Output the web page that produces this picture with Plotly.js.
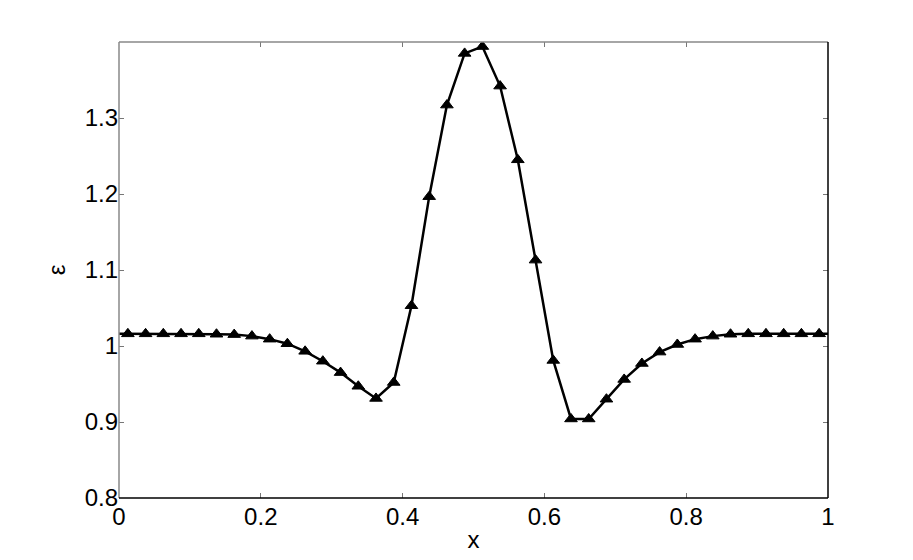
<!DOCTYPE html>
<html>
<head>
<meta charset="utf-8">
<script src="https://cdn.plot.ly/plotly-3.0.1.min.js"></script>
<style>html,body{margin:0;padding:0;background:#fff;}#chart{width:913px;height:560px;}</style>
</head>
<body>
<div id="chart"></div>
<script>
// Marker positions (cell centres) and values
var xMarkers = [0.0125,0.0375,0.0625,0.0875,0.1125,0.1375,0.1625,0.1875,0.2125,0.2375,
                0.2625,0.2875,0.3125,0.3375,0.3625,0.3875,0.4125,0.4375,0.4625,0.4875,
                0.5125,0.5375,0.5625,0.5875,0.6125,0.6375,0.6625,0.6875,0.7125,0.7375,
                0.7625,0.7875,0.8125,0.8375,0.8625,0.8875,0.9125,0.9375,0.9625,0.9875];
var epsValues = [1.016,1.016,1.016,1.016,1.016,1.0155,1.015,1.013,1.009,1.003,
                 0.993,0.980,0.965,0.947,0.931,0.952,1.053,1.1965,1.317,1.385,
                 1.394,1.342,1.245,1.113,0.981,0.904,0.904,0.930,0.956,0.977,
                 0.992,1.002,1.009,1.013,1.0155,1.016,1.016,1.016,1.016,1.016];
// Line also reaches the domain boundaries
var xBoundary = [0, 1];
var epsBoundary = [1.016, 1.016];

var xTickVals = [0, 0.2, 0.4, 0.6, 0.8, 1];
var xTickText = ["0", "0.2", "0.4", "0.6", "0.8", "1"];
var yTickVals = [0.8, 0.9, 1.0, 1.1, 1.2, 1.3];
var yTickText = ["0.8", "0.9", "1", "1.1", "1.2", "1.3"];

var xLine = [xBoundary[0]].concat(xMarkers, [xBoundary[1]]);
var yLine = [epsBoundary[0]].concat(epsValues, [epsBoundary[1]]);

var traces = [
  {x: xLine, y: yLine, type: 'scatter', mode: 'lines',
   line: {color: '#000', width: 2.5}, hoverinfo: 'skip', showlegend: false},
  {x: xMarkers, y: epsValues, type: 'scatter', mode: 'markers',
   marker: {symbol: 'triangle-up', size: 11, color: '#000', line: {color: '#000', width: 1}},
   showlegend: false}
];

var font = {family: '"Liberation Sans", Arial, Helvetica, sans-serif', size: 24, color: '#000'};

var layout = {
  width: 913, height: 560,
  margin: {l: 119, r: 85, t: 42, b: 62, pad: 0},
  paper_bgcolor: '#fff', plot_bgcolor: '#fff',
  font: font,
  showlegend: false,
  xaxis: {
    range: [0, 1], tickvals: xTickVals, ticktext: xTickText,
    ticks: 'inside', ticklen: 5, tickwidth: 1, tickcolor: '#777',
    mirror: 'ticks', showline: false, showgrid: false, zeroline: false,
    tickfont: font, ticklabelstandoff: 2,
    title: {text: 'x', font: font, standoff: 2}
  },
  yaxis: {
    range: [0.8, 1.4], tickvals: yTickVals, ticktext: yTickText,
    ticks: 'inside', ticklen: 5, tickwidth: 1, tickcolor: '#777',
    mirror: 'ticks', showline: false, showgrid: false, zeroline: false,
    tickfont: font,
    title: {text: 'ε', font: font, standoff: 12}
  },
  shapes: [
    {type: 'line', xref: 'paper', yref: 'paper', x0: 0, x1: 0, y0: 0, y1: 1, line: {color: '#888', width: 1.5}},
    {type: 'line', xref: 'paper', yref: 'paper', x0: 0, x1: 1, y0: 1, y1: 1, line: {color: '#888', width: 1.5}},
    {type: 'line', xref: 'paper', yref: 'paper', x0: 0, x1: 1, y0: 0, y1: 0, line: {color: '#000', width: 1.5}},
    {type: 'line', xref: 'paper', yref: 'paper', x0: 1, x1: 1, y0: 0, y1: 1, line: {color: '#000', width: 1.5}}
  ]
};

Plotly.newPlot('chart', traces, layout, {staticPlot: true, displayModeBar: false});
</script>
</body>
</html>
